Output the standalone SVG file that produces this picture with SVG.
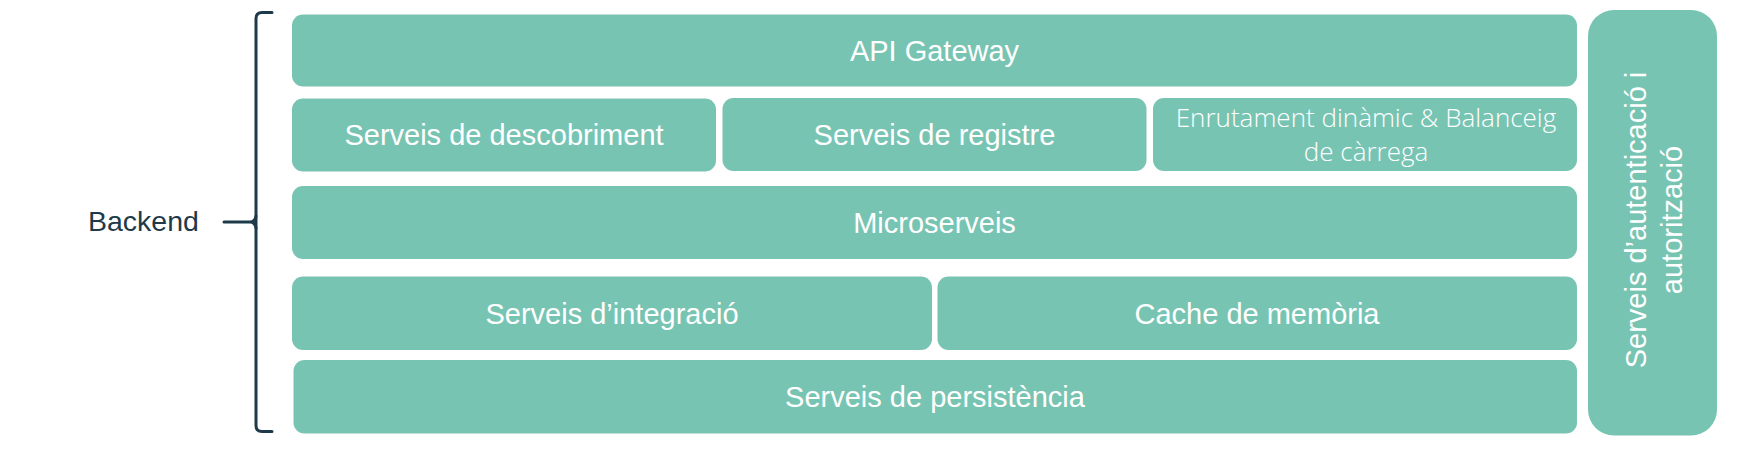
<svg xmlns="http://www.w3.org/2000/svg" width="1756" height="463" viewBox="0 0 1756 463">
<style>
.box{fill:#78C4B3;}
.t{font-family:"Liberation Sans",Arial,sans-serif;font-size:29px;fill:#ffffff;text-anchor:middle;}
.tl{font-family:"Open Sans","Noto Sans",sans-serif;font-weight:300;font-size:26px;fill:#ffffff;text-anchor:middle;}
.br{fill:none;stroke:#1E3A4A;stroke-width:3;stroke-linecap:round;stroke-linejoin:round;}
.lbl{font-family:"Liberation Sans",Arial,sans-serif;font-size:28.5px;fill:#1E3A4A;}
</style>
<rect width="1756" height="463" fill="#ffffff"/>
<g id="backend-label">
<text class="lbl" x="88" y="231">Backend</text>
</g>
<g id="connectors">
<path class="br" d="M272,12.5 L262,12.5 Q256,12.5 256,18.5 L256,425.5 Q256,431.5 262,431.5 L272,431.5"/>
<path class="br" d="M224,222 L250,222 Q255,222 256,216 M250,222 Q255,222 256,228"/>
</g>
<g id="api-gateway">
<rect class="box" x="292" y="14.5" width="1285" height="72" rx="11"/>
<text class="t" x="934.5" y="61">API Gateway</text>
</g>
<g id="descobriment">
<rect class="box" x="292" y="98.5" width="424" height="73" rx="11"/>
<text class="t" x="504" y="145">Serveis de descobriment</text>
</g>
<g id="registre">
<rect class="box" x="722.5" y="98" width="424" height="73" rx="11"/>
<text class="t" x="934.5" y="145">Serveis de registre</text>
</g>
<g id="enrutament">
<rect class="box" x="1153" y="98" width="424" height="73" rx="11"/>
<text class="tl" x="1366" y="127">Enrutament dinàmic &amp; Balanceig</text>
<text class="tl" x="1366" y="161">de càrrega</text>
</g>
<g id="microserveis">
<rect class="box" x="292" y="186" width="1285" height="73" rx="11"/>
<text class="t" x="934.5" y="233">Microserveis</text>
</g>
<g id="integracio">
<rect class="box" x="292" y="276.5" width="640" height="73.5" rx="11"/>
<text class="t" x="612" y="323.5">Serveis d’integració</text>
</g>
<g id="cache">
<rect class="box" x="937.5" y="276.5" width="639.5" height="73.5" rx="11"/>
<text class="t" x="1257" y="323.5">Cache de memòria</text>
</g>
<g id="persistencia">
<rect class="box" x="293.5" y="360" width="1283.5" height="73.5" rx="11"/>
<text class="t" x="935" y="407">Serveis de persistència</text>
</g>
<g id="autenticacio">
<rect class="box" x="1588" y="10" width="129" height="425.5" rx="26"/>
<text class="t" transform="translate(1646,220) rotate(-90)" x="0" y="0">Serveis d’autenticació i</text>
<text class="t" transform="translate(1682,220) rotate(-90)" x="0" y="0">autorització</text>
</g>
</svg>
